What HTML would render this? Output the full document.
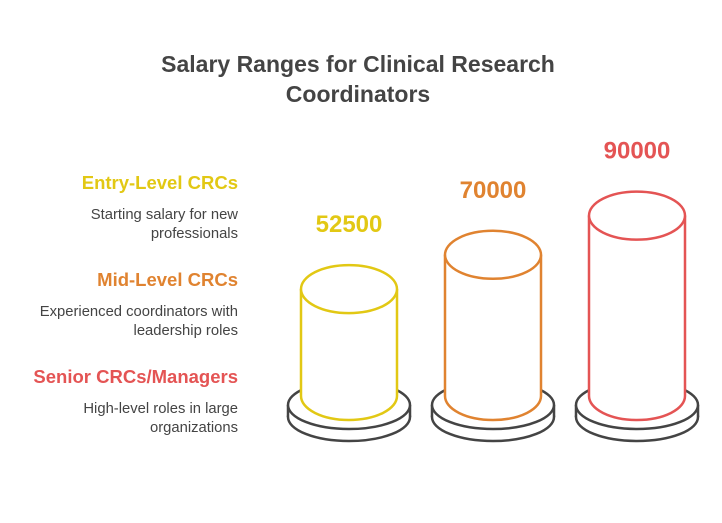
<!DOCTYPE html>
<html><head><meta charset="utf-8"><style>
body{margin:0;background:#fff;width:722px;height:518px;overflow:hidden;font-family:"Liberation Sans",sans-serif}
</style></head><body>
<svg id="chart" width="722" height="518" xmlns="http://www.w3.org/2000/svg">
<text x="358" y="72" text-anchor="middle" font-size="23" font-weight="bold" fill="#444">Salary Ranges for Clinical Research</text>
<text x="358" y="102" text-anchor="middle" font-size="23" font-weight="bold" fill="#444">Coordinators</text>
<g id="legend"></g>
<g id="bars"></g>
</svg>
<script>
const categories=["Entry-Level CRCs","Mid-Level CRCs","Senior CRCs/Managers"];
const descriptions=[["Starting salary for new","professionals"],["Experienced coordinators with","leadership roles"],["High-level roles in large","organizations"]];
const values=[52500,70000,90000];
const colors=["#e2c814","#e08330","#e45454"];
const NS="http://www.w3.org/2000/svg";
const baseY=396, cx0=349, dx=144, rx=48, ry=24;
function yScale(v){return baseY-(4+v*0.00196);}
function mk(t,a,p){const e=document.createElementNS(NS,t);for(const k in a)e.setAttribute(k,a[k]);p.appendChild(e);return e;}
const bars=document.getElementById('bars'),legend=document.getElementById('legend');
categories.forEach((c,i)=>{
  const ly=182+i*97;
  const t=mk('text',{x:238,y:ly+7,'text-anchor':'end','font-size':18.5,'font-weight':'bold',fill:colors[i]},legend);
  t.textContent=c;
  
  
  descriptions[i].forEach((d,j)=>{
    const s=mk('text',{x:238,y:ly+37+j*19,'text-anchor':'end','font-size':14.8,fill:'#444'},legend);
    s.textContent=d;
    
    
  });
  const cx=cx0+i*dx, top=yScale(values[i]);
  const g=mk('g',{},bars);
  
  
  mk('ellipse',{cx:cx,cy:417,rx:61,ry:24,fill:'#fff',stroke:'#444','stroke-width':2.5},g);
  mk('rect',{x:cx-61,y:405,width:122,height:12,fill:'#fff'},g);
  mk('line',{x1:cx-61,y1:405,x2:cx-61,y2:417,stroke:'#444','stroke-width':2.5},g);
  mk('line',{x1:cx+61,y1:405,x2:cx+61,y2:417,stroke:'#444','stroke-width':2.5},g);
  mk('ellipse',{cx:cx,cy:405,rx:61,ry:24,fill:'#fff',stroke:'#444','stroke-width':2.5},g);
  mk('path',{d:`M${cx-rx},${top} L${cx-rx},${baseY} A${rx},${ry} 0 0 0 ${cx+rx},${baseY} L${cx+rx},${top}`,fill:'#fff',stroke:colors[i],'stroke-width':2.5},g);
  mk('ellipse',{cx:cx,cy:top,rx:rx,ry:ry,fill:'#fff',stroke:colors[i],'stroke-width':2.5},g);
  const v=mk('text',{x:cx,y:top-57,'text-anchor':'middle','font-size':24,'font-weight':'bold',fill:colors[i]},bars);
  v.textContent=values[i];
  
  
});
</script>
</body></html>
